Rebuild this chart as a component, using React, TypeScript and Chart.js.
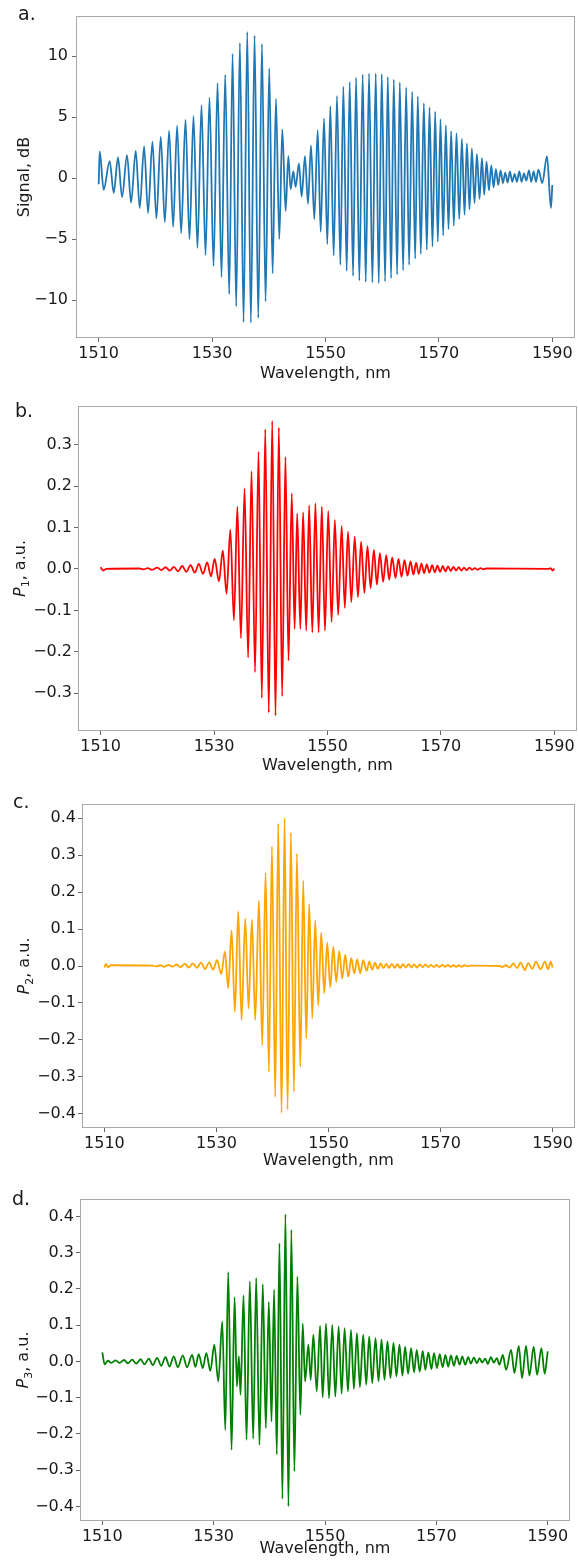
import React, { useEffect, useRef } from 'react';
import { Chart, registerables } from 'chart.js';

Chart.register(...registerables);

const FONT = "'DejaVu Sans', 'Liberation Sans', sans-serif";

// shared x axis
const xTickValues = [1510, 1530, 1550, 1570, 1590];
const xTitle = 'Wavelength, nm';

// ---- panel a: Signal, dB (extrema) ----
const aWl = [
  1510.00, 1510.18, 1510.88, 1511.94, 1512.65, 1513.41, 1514.12, 1515.00, 1515.71, 1516.53,
  1517.24, 1518.01, 1518.71, 1519.48, 1520.18, 1520.95, 1521.66, 1522.42, 1523.13, 1523.83,
  1524.54, 1525.31, 1526.01, 1526.72, 1527.42, 1528.13, 1528.84, 1529.54, 1530.25, 1530.96,
  1531.66, 1532.31, 1533.02, 1533.61, 1534.25, 1534.90, 1535.55, 1536.20, 1536.84, 1537.49,
  1538.14, 1538.79, 1539.43, 1540.08, 1540.67, 1541.26, 1541.85, 1542.38, 1542.97,
  1543.44, 1543.85, 1544.32, 1544.73, 1545.32, 1545.79, 1546.38, 1546.91, 1547.44, 1548.03,
  1548.62, 1549.15, 1549.74, 1550.32, 1550.85, 1551.44, 1552.03, 1552.62, 1553.15, 1553.74,
  1554.27, 1554.86, 1555.39, 1555.97, 1556.56, 1557.09, 1557.68, 1558.27, 1558.86, 1559.39,
  1559.92, 1560.51, 1560.98, 1561.57, 1562.04, 1562.63, 1563.10, 1563.69, 1564.22, 1564.75,
  1565.28, 1565.81, 1566.28, 1566.81, 1567.34, 1567.87, 1568.34, 1568.87, 1569.34, 1569.81,
  1570.28, 1570.75, 1571.22, 1571.69, 1572.16, 1572.63, 1573.10, 1573.58, 1574.05, 1574.52,
  1574.93, 1575.40, 1575.81, 1576.28, 1576.70, 1577.17, 1577.58, 1577.99, 1578.40, 1578.82,
  1579.23, 1579.64, 1580.05, 1580.46, 1580.88, 1581.29, 1581.70, 1582.11, 1582.52, 1582.94,
  1583.35, 1583.76, 1584.17, 1584.58, 1585.00, 1585.41, 1585.88, 1586.29, 1586.70, 1587.12,
  1587.53, 1588.23, 1589.06, 1589.76, 1590.00,
];
const aSignal = [
  -0.5, 2.2, -0.95, 1.4, -1.2, 1.7, -1.55, 1.9, -2.0, 2.25,
  -2.45, 2.6, -2.85, 3.0, -3.3, 3.4, -3.6, 3.9, -4.0, 4.3,
  -4.5, 4.8, -5.0, 5.1, -5.7, 6.0, -6.3, 6.6, -7.2, 7.8,
  -8.1, 8.5, -9.5, 10.2, -10.5, 11.1, -11.8, 12.0, -11.85, 11.7,
  -11.45, 11.0, -10.1, 9.0, -7.8, 6.5, -5.0, 4.0, -2.7,
  1.8, -0.9, 0.55, -0.7, 1.2, -1.5, 1.8, -2.1, 2.7, -3.35,
  3.95, -4.4, 4.9, -5.4, 5.9, -6.35, 6.75, -7.1, 7.5, -7.6,
  7.9, -8.0, 8.25, -8.4, 8.5, -8.5, 8.6, -8.55, 8.6, -8.6,
  8.55, -8.45, 8.3, -8.2, 8.1, -7.9, 7.85, -7.55, 7.45, -7.1,
  7.1, -6.6, 6.7, -6.2, 6.15, -5.85, 5.8, -5.6, 5.45, -5.2,
  4.85, -4.7, 4.35, -4.2, 3.85, -3.9, 3.7, -3.35, 3.25, -3.0,
  2.85, -2.55, 2.45, -2.05, 2.0, -1.7, 1.65, -1.35, 1.35, -1.0,
  1.05, -0.75, 0.75, -0.55, 0.65, -0.4, 0.45, -0.35, 0.55, -0.3,
  0.35, -0.3, 0.55, -0.3, 0.4, -0.2, 0.65, -0.3, 0.55, -0.3,
  0.7, -0.4, 1.8, -2.45, -0.55,
];
const aTicks = [-10, -5, 0, 5, 10];

// ---- panel b: P1 ----
const bWl = [
  1510.00, 1510.40, 1511.00, 1516.80, 1517.55, 1518.30, 1519.05, 1519.98, 1520.70, 1521.44,
  1522.17, 1522.91, 1523.65, 1524.38, 1525.10, 1525.85, 1526.60, 1527.31, 1528.05, 1528.78,
  1529.45, 1530.10, 1530.85, 1531.54, 1532.20, 1532.86, 1533.50, 1534.10, 1534.73, 1535.37,
  1536.00, 1536.60, 1537.22, 1537.83, 1538.42, 1539.02, 1539.64, 1540.25, 1540.83, 1541.42,
  1542.00, 1542.58, 1543.12, 1543.70, 1544.20, 1544.65, 1545.21, 1545.70, 1546.25, 1546.76,
  1547.32, 1547.87, 1548.43, 1549.00, 1549.55, 1550.13, 1550.72, 1551.30, 1551.88, 1552.50,
  1553.05, 1553.62, 1554.20, 1554.80, 1555.37, 1555.93, 1556.50, 1557.05, 1557.60, 1558.18,
  1558.71, 1559.24, 1559.82, 1560.35, 1560.88, 1561.41, 1561.99, 1562.52, 1563.05, 1563.58,
  1564.11, 1564.64, 1565.16, 1565.63, 1566.10, 1566.57, 1567.04, 1567.51, 1567.98, 1568.45,
  1568.92, 1569.39, 1569.86, 1570.33, 1570.80, 1571.27, 1571.74, 1572.20, 1572.67, 1573.14,
  1573.61, 1574.08, 1574.55, 1575.02, 1575.50, 1576.00, 1576.50, 1577.00, 1577.50, 1578.00,
  1589.00, 1589.35, 1589.70, 1590.00,
];
const bP1 = [
  0.004, -0.004, 0.0, 0.001, -0.001, 0.002, -0.002, 0.003, -0.003, 0.004,
  -0.004, 0.005, -0.006, 0.007, -0.007, 0.009, -0.009, 0.012, -0.012, 0.016,
  -0.018, 0.024, -0.030, 0.044, -0.060, 0.095, -0.124, 0.150, -0.167, 0.194,
  -0.214, 0.236, -0.249, 0.283, -0.311, 0.337, -0.347, 0.357, -0.354, 0.341,
  -0.307, 0.270, -0.221, 0.182, -0.145, 0.134, -0.145, 0.137, -0.149, 0.153,
  -0.153, 0.158, -0.153, 0.150, -0.149, 0.140, -0.128, 0.118, -0.111, 0.104,
  -0.094, 0.090, -0.080, 0.078, -0.068, 0.066, -0.058, 0.055, -0.046, 0.046,
  -0.038, 0.038, -0.031, 0.033, -0.026, 0.028, -0.022, 0.024, -0.019, 0.021,
  -0.016, 0.018, -0.014, 0.015, -0.012, 0.013, -0.010, 0.011, -0.009, 0.009,
  -0.008, 0.008, -0.007, 0.007, -0.006, 0.006, -0.005, 0.005, -0.004, 0.004,
  -0.004, 0.003, -0.003, 0.003, -0.002, 0.002, -0.002, 0.002, -0.001, 0.001,
  0.0, 0.002, -0.004, 0.001,
];

// ---- panel c: P2 ----
const cWl = [
  1510.00, 1510.25, 1510.60, 1511.20, 1518.50, 1519.25, 1520.00, 1520.70, 1521.45, 1522.15,
  1522.90, 1523.60, 1524.35, 1525.05, 1525.80, 1526.50, 1527.25, 1527.95, 1528.70, 1529.40,
  1530.10, 1530.85, 1531.51, 1532.10, 1532.70, 1533.29, 1533.89, 1534.48, 1535.14, 1535.73,
  1536.33, 1536.92, 1537.58, 1538.17, 1538.77, 1539.36, 1539.90, 1540.49, 1541.03, 1541.62,
  1542.16, 1542.69, 1543.29, 1543.82, 1544.36, 1544.96, 1545.49, 1546.03, 1546.56, 1547.10,
  1547.63, 1548.17, 1548.70, 1549.24, 1549.77, 1550.31, 1550.85, 1551.38, 1551.92, 1552.45,
  1552.99, 1553.52, 1554.06, 1554.59, 1555.13, 1555.66, 1556.20, 1556.80, 1557.30, 1557.80,
  1558.30, 1558.80, 1559.30, 1559.80, 1560.30, 1560.80, 1561.30, 1561.80, 1562.30, 1562.80,
  1563.30, 1563.80, 1564.30, 1564.80, 1565.30, 1565.80, 1566.30, 1566.80, 1567.30, 1567.80,
  1568.30, 1568.80, 1569.30, 1569.80, 1570.30, 1570.80, 1571.30, 1571.80, 1572.30, 1572.80,
  1573.30, 1573.80, 1574.30, 1574.80, 1575.30, 1580.50, 1581.00, 1581.60, 1582.38, 1582.97,
  1583.69, 1584.28, 1585.06, 1585.65, 1586.37, 1587.02, 1587.85, 1588.63, 1589.22, 1589.64,
  1590.00,
];
const cP2 = [
  -0.004, 0.006, -0.003, 0.002, 0.001, -0.001, 0.002, -0.002, 0.003, -0.002,
  0.004, -0.003, 0.006, -0.004, 0.007, -0.005, 0.009, -0.008, 0.010, -0.010,
  0.016, -0.022, 0.039, -0.060, 0.096, -0.124, 0.148, -0.146, 0.129, -0.115,
  0.126, -0.146, 0.177, -0.214, 0.253, -0.286, 0.323, -0.354, 0.385, -0.397,
  0.400, -0.388, 0.361, -0.340, 0.304, -0.273, 0.231, -0.196, 0.168, -0.142,
  0.123, -0.106, 0.090, -0.074, 0.063, -0.058, 0.052, -0.043, 0.040, -0.034,
  0.030, -0.029, 0.021, -0.020, 0.018, -0.020, 0.016, -0.013, 0.012, -0.010,
  0.009, -0.008, 0.007, -0.006, 0.006, -0.005, 0.006, -0.005, 0.005, -0.005,
  0.005, -0.004, 0.005, -0.004, 0.004, -0.004, 0.004, -0.003, 0.004, -0.003,
  0.003, -0.003, 0.003, -0.003, 0.003, -0.002, 0.003, -0.002, 0.002, -0.002,
  0.002, -0.002, 0.002, -0.001, 0.001, 0.0, -0.003, 0.002, -0.004, 0.007,
  -0.006, 0.009, -0.011, 0.008, -0.008, 0.012, -0.009, 0.012, -0.009, 0.012,
  -0.004,
];

// ---- panel d: P3 ----
const dWl = [
  1510.01, 1510.43, 1511.03, 1511.62, 1512.40, 1513.12, 1513.89, 1514.61, 1515.38, 1516.10,
  1516.88, 1517.59, 1518.37, 1519.08, 1519.86, 1520.58, 1521.35, 1522.07, 1522.84, 1523.56,
  1524.46, 1525.23, 1526.13, 1526.72, 1527.32, 1528.04, 1528.69, 1529.41, 1530.12, 1530.84,
  1531.55, 1532.09, 1532.62, 1533.22, 1533.76, 1534.17, 1534.53, 1534.83, 1535.37, 1535.91,
  1536.50, 1537.10, 1537.64, 1538.23, 1538.83, 1539.37, 1539.91, 1540.39, 1540.86, 1541.34,
  1541.82, 1542.35, 1542.89, 1543.43, 1543.96, 1544.50, 1545.04, 1545.57, 1546.00, 1546.42,
  1547.02, 1547.43, 1547.91, 1548.51, 1549.11, 1549.58, 1550.18, 1550.72, 1551.31, 1551.85,
  1552.45, 1552.98, 1553.52, 1554.12, 1554.66, 1555.19, 1555.73, 1556.27, 1556.86, 1557.40,
  1557.94, 1558.48, 1559.07, 1559.61, 1560.15, 1560.68, 1561.22, 1561.76, 1562.30, 1562.83,
  1563.37, 1563.91, 1564.38, 1564.92, 1565.46, 1566.00, 1566.47, 1567.01, 1567.55, 1568.02,
  1568.56, 1569.10, 1569.58, 1570.11, 1570.59, 1571.13, 1571.61, 1572.14, 1572.62, 1573.16,
  1573.64, 1574.17, 1574.65, 1575.19, 1575.72, 1576.20, 1576.74, 1577.28, 1577.75, 1578.23,
  1578.77, 1579.25, 1579.78, 1580.32, 1580.86, 1581.33, 1581.93, 1582.53, 1583.42, 1584.02,
  1584.80, 1585.39, 1586.11, 1586.71, 1587.48, 1588.08, 1588.86, 1589.45, 1590.00,
];
const dP3 = [
  0.025, -0.008, 0.002, -0.004, 0.003, -0.004, 0.004, -0.005, 0.005, -0.006,
  0.006, -0.008, 0.008, -0.010, 0.010, -0.012, 0.012, -0.014, 0.014, -0.016,
  0.017, -0.016, 0.018, -0.015, 0.020, -0.018, 0.023, -0.026, 0.046, -0.055,
  0.110, -0.189, 0.246, -0.244, 0.177, -0.069, 0.014, -0.092, 0.182, -0.216,
  0.221, -0.213, 0.230, -0.230, 0.213, -0.184, 0.164, -0.166, 0.198, -0.256,
  0.326, -0.379, 0.406, -0.400, 0.363, -0.303, 0.234, -0.147, 0.104, -0.055,
  0.046, -0.051, 0.074, -0.083, 0.098, -0.099, 0.104, -0.101, 0.101, -0.097,
  0.097, -0.089, 0.092, -0.083, 0.087, -0.076, 0.078, -0.071, 0.074, -0.064,
  0.069, -0.060, 0.064, -0.055, 0.060, -0.051, 0.055, -0.046, 0.051, -0.041,
  0.046, -0.039, 0.041, -0.034, 0.037, -0.030, 0.032, -0.028, 0.029, -0.023,
  0.025, -0.021, 0.023, -0.018, 0.020, -0.016, 0.018, -0.014, 0.017, -0.012,
  0.015, -0.009, 0.014, -0.009, 0.012, -0.006, 0.011, -0.005, 0.009, -0.003,
  0.008, -0.007, 0.012, -0.003, 0.009, -0.009, 0.018, -0.023, 0.032, -0.032,
  0.043, -0.046, 0.043, -0.039, 0.041, -0.037, 0.037, -0.034, 0.028,
];
const p3Ticks = [-0.3, -0.2, -0.1, 0.0, 0.1, 0.2, 0.3];
const p4Ticks = [-0.4, -0.3, -0.2, -0.1, 0.0, 0.1, 0.2, 0.3, 0.4];

type Seg = { t: string; italic?: boolean; sub?: boolean };
interface Panel {
  key: string; label: string; labelX: number; labelY: number;
  top: number; height: number; left: number; right: number; plotTop: number; plotBottom: number;
  xs: number[]; ys: number[]; color: string;
  yMin: number; yMax: number; yTicks: number[]; decimals: number; yGap: number;
  yTitle: Seg[]; yTitleX: number; xTitleY: number;
}

const pTitle = (n: string): Seg[] => [{ t: 'P', italic: true }, { t: n, sub: true }, { t: ', a.u.' }];

const panels: Panel[] = [
  { key: 'a', label: 'a.', labelX: 18, labelY: 20, top: 0, height: 390, left: 76, right: 575, plotTop: 16, plotBottom: 338,
    xs: aWl, ys: aSignal, color: '#1f77b4', yMin: -13.1, yMax: 13.3, yTicks: aTicks, decimals: 0, yGap: 8,
    yTitle: [{ t: 'Signal, dB' }], yTitleX: 25, xTitleY: 373.5 },
  { key: 'b', label: 'b.', labelX: 15, labelY: 417, top: 390, height: 395, left: 78, right: 577, plotTop: 406, plotBottom: 731,
    xs: bWl, ys: bP1, color: '#ff0000', yMin: -0.391, yMax: 0.393, yTicks: p3Ticks, decimals: 1, yGap: 6,
    yTitle: pTitle('1'), yTitleX: 21, xTitleY: 766 },
  { key: 'c', label: 'c.', labelX: 13, labelY: 808, top: 785, height: 395, left: 82, right: 575, plotTop: 804, plotBottom: 1128,
    xs: cWl, ys: cP2, color: '#ffa500', yMin: -0.438, yMax: 0.438, yTicks: p4Ticks, decimals: 1, yGap: 6,
    yTitle: pTitle('2'), yTitleX: 25, xTitleY: 1161 },
  { key: 'd', label: 'd.', labelX: 12, labelY: 1205, top: 1180, height: 381, left: 80, right: 570, plotTop: 1199, plotBottom: 1521,
    xs: dWl, ys: dP3, color: '#008000', yMin: -0.44, yMax: 0.448, yTicks: p4Ticks, decimals: 1, yGap: 6,
    yTitle: pTitle('3'), yTitleX: 24, xTitleY: 1549 },
];

const fmt = (v: number, d: number) => {
  if (Math.abs(v) < 1e-9) return d ? (0).toFixed(d) : '0';
  const s = Math.abs(v).toFixed(d);
  return v < 0 ? '\u2212' + s : s;
};

function PanelChart({ p }: { p: Panel }) {
  const ref = useRef<HTMLCanvasElement | null>(null);
  useEffect(() => {
    if (!ref.current) return;
    const n = Math.min(p.xs.length, p.ys.length);
    const data = [] as { x: number; y: number }[];
    for (let i = 0; i < n; i++) data.push({ x: p.xs[i], y: p.ys[i] });
    const TL = 4;
    const deco = {
      id: 'deco' + p.key,
      afterDraw(chart: any) {
        const { ctx, chartArea: ca } = chart;
        ctx.save();
        ctx.strokeStyle = '#a9a9a9';
        ctx.lineWidth = 1;
        ctx.strokeRect(ca.left + 0.5, ca.top + 0.5, ca.right - ca.left - 1, ca.bottom - ca.top - 1);
        ctx.fillStyle = '#1a1a1a';
        // panel letter
        ctx.font = `19px ${FONT}`;
        ctx.textAlign = 'left';
        ctx.textBaseline = 'alphabetic';
        ctx.fillText(p.label, p.labelX, p.labelY - p.top);
        // x title
        ctx.font = `16px ${FONT}`;
        ctx.textAlign = 'center';
        ctx.textBaseline = 'middle';
        ctx.fillText(xTitle, (ca.left + ca.right) / 2, p.xTitleY - p.top);
        // y title (rotated)
        ctx.translate(p.yTitleX, (ca.top + ca.bottom) / 2);
        ctx.rotate(-Math.PI / 2);
        const fontOf = (s: Seg) => `${s.italic ? 'italic ' : ''}${s.sub ? 11 : 16}px ${FONT}`;
        let total = 0;
        for (const s of p.yTitle) { ctx.font = fontOf(s); total += ctx.measureText(s.t).width; }
        let x = -total / 2;
        ctx.textAlign = 'left';
        for (const s of p.yTitle) {
          ctx.font = fontOf(s);
          ctx.fillText(s.t, x, s.sub ? 5 : 0);
          x += ctx.measureText(s.t).width;
        }
        ctx.restore();
      },
    };
    const chart = new Chart(ref.current, {
      type: 'line',
      data: {
        datasets: [{
          data,
          borderColor: p.color,
          borderWidth: 1.8,
          pointRadius: 0,
          fill: false,
          cubicInterpolationMode: 'monotone',
          borderJoinStyle: 'round',
        }],
      },
      options: {
        responsive: false,
        animation: false,
        devicePixelRatio: 1,
        events: [],
        layout: { padding: { top: p.plotTop - p.top, right: 578 - p.right, left: 0, bottom: 0 } },
        plugins: { legend: { display: false }, tooltip: { enabled: false } },
        scales: {
          x: {
            type: 'linear',
            min: 1506,
            max: 1594,
            afterBuildTicks: (s: any) => { s.ticks = xTickValues.map((v) => ({ value: v })); },
            afterFit: (s: any) => { s.height = p.top + p.height - p.plotBottom; s.paddingLeft = 0; s.paddingRight = 0; },
            grid: { display: true, drawOnChartArea: false, drawTicks: true, tickLength: TL, color: '#666', lineWidth: 1 },
            border: { display: false },
            ticks: {
              autoSkip: false, maxRotation: 0, padding: 2, color: '#1a1a1a',
              font: { family: FONT, size: 16 },
              callback: (v: any) => String(v),
            },
          },
          y: {
            type: 'linear',
            min: p.yMin,
            max: p.yMax,
            afterBuildTicks: (s: any) => { s.ticks = p.yTicks.map((v) => ({ value: v })); },
            afterFit: (s: any) => { s.width = p.left; s.paddingTop = 0; s.paddingBottom = 0; },
            grid: { display: true, drawOnChartArea: false, drawTicks: true, tickLength: TL, color: '#666', lineWidth: 1 },
            border: { display: false },
            ticks: {
              autoSkip: false, padding: p.yGap - TL, color: '#1a1a1a',
              font: { family: FONT, size: 16 },
              callback: (v: any) => fmt(Number(v), p.decimals),
            },
          },
        },
      },
      plugins: [deco],
    } as any);
    return () => chart.destroy();
  }, [p]);
  return (
    <canvas
      ref={ref}
      width={578}
      height={p.height}
      style={{ position: 'absolute', left: 0, top: p.top, width: 578, height: p.height, display: 'block' }}
    />
  );
}

export default function App() {
  return (
    <div style={{ position: 'absolute', left: 0, top: 0, width: 578, height: 1561, background: '#ffffff', overflow: 'hidden' }}>
      {panels.map((p) => <PanelChart key={p.key} p={p} />)}
    </div>
  );
}
